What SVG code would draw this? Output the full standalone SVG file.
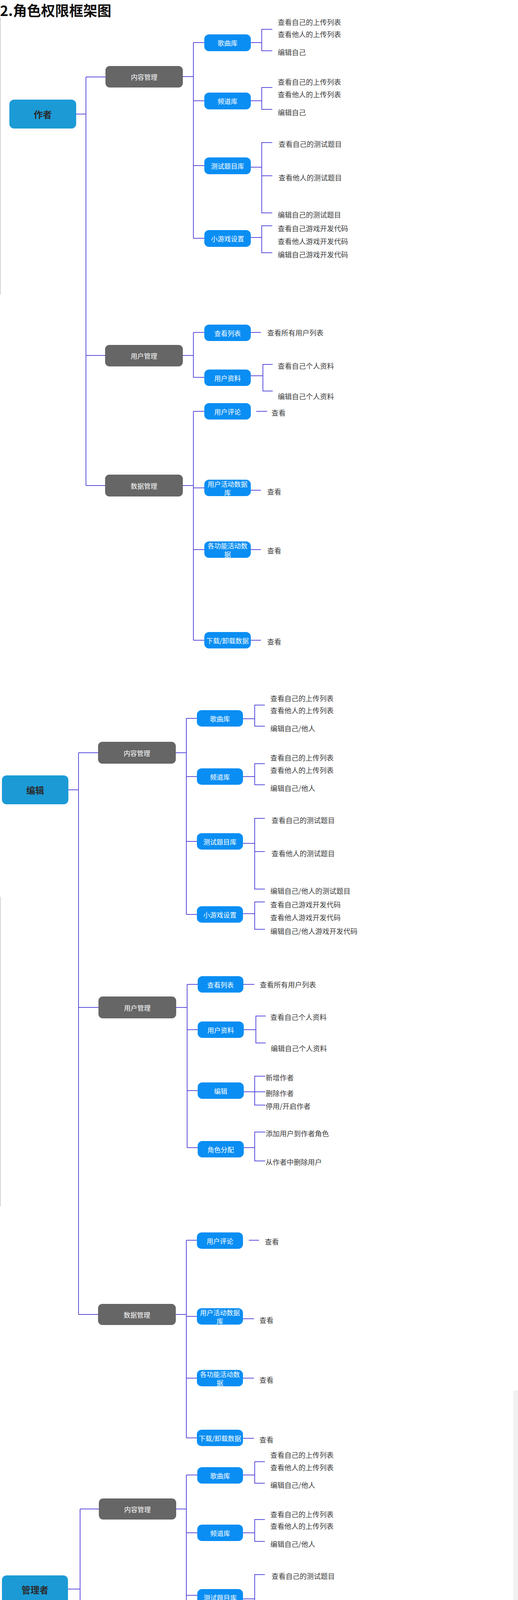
<svg xmlns="http://www.w3.org/2000/svg" width="1326" height="6324" viewBox="0 0 1326 6324">
<style>
text{font-family:"Noto Sans CJK SC","Noto Sans",sans-serif;dominant-baseline:central}
.c{fill:none;stroke:#5b4fdc;stroke-width:2}
.role rect{fill:#1c9ad6}
.role text{font-size:23px;font-weight:bold;fill:#2a2a2a;text-anchor:middle}
.cat rect{fill:#666666}
.sub rect{fill:#0a8ef3}
.cat text,.sub text{font-size:17px;fill:#ffffff;text-anchor:middle}
.leaf text{font-size:18px;fill:#3c3c3c}
.title{font-size:36px;font-weight:bold;fill:#111111}
.edge{stroke:#c4c4c4;stroke-width:1.5}
</style>
<rect width="1326" height="6324" fill="#ffffff"/>
<g id="frame">
<line class="edge" x1="0.8" y1="45" x2="0.8" y2="754"/>
<line class="edge" x1="0.8" y1="2296" x2="0.8" y2="3088"/>
<line class="edge" x1="0.8" y1="4427" x2="0.8" y2="5136"/>
<line class="edge" x1="0.8" y1="5863" x2="0.8" y2="6324"/>
<rect x="1314" y="3560" width="12" height="866" fill="#f1f1f1"/>
<rect x="1317" y="4146" width="9" height="99" fill="#c1c1c1"/>
</g>
<text class="title" x="0" y="25">2.角色权限框架图</text>

<g id="connectors">
<!-- Section A: 作者 -->
<path class="c" d="M195 292H220M220 197V1243M220 197H270M220 910H269M220 1243H269"/>
<path class="c" d="M468 196H495M495 109V610M495 109H523M495 258H523M495 424H523M495 610H523"/>
<path class="c" d="M642 109H670M697 75H670V130H697"/>
<path class="c" d="M642 258H670M697 224H670V280H697"/>
<path class="c" d="M642 428H670M697 365H670V545H697M670 450H697"/>
<path class="c" d="M642 608H670M697 578H670V647H697"/>
<path class="c" d="M468 910H495M495 851V966M495 851H523M495 966H523"/>
<path class="c" d="M642 851H668"/>
<path class="c" d="M642 962H673M698 933H673V1001H698"/>
<path class="c" d="M468 1243H495M495 1053V1639M495 1053H523M495 1249H523M495 1407H523M495 1639H523"/>
<path class="c" d="M656 1053H684M642 1255H668M642 1407H668M642 1639H668"/>
<!-- Section B: 编辑 -->
<path class="c" d="M175 2022H201M201 1927V3365M201 1927H251M201 2579H252M201 3365H251"/>
<path class="c" d="M450 1927H477M477 1839V2341M477 1839H504M477 1988H504M477 2154H504M477 2341H504"/>
<path class="c" d="M622 1840H652M678 1805H652V1859H678"/>
<path class="c" d="M622 1988H652M678 1955H652V2009H678"/>
<path class="c" d="M622 2159H652M678 2095H652V2276H678M652 2180H678"/>
<path class="c" d="M622 2339H652M678 2309H652V2379H678"/>
<path class="c" d="M451 2579H479M479 2520V2938M479 2520H506M479 2636H506M479 2792H506M479 2938H506"/>
<path class="c" d="M623 2520H651"/>
<path class="c" d="M624 2636H655M680 2601H655V2670H680"/>
<path class="c" d="M624 2795H652M679 2755H652V2829H679M652 2795H679"/>
<path class="c" d="M624 2938H652M679 2898H652V2972H679"/>
<path class="c" d="M450 3365H477M477 3175V3681M477 3175H504M477 3370H504M477 3528H504M477 3681H504"/>
<path class="c" d="M637 3175H663M622 3376H650M622 3528H650M622 3682H650"/>
<!-- Section C: 管理者 -->
<path class="c" d="M174 4068H205M205 3863V6085M205 3863H253M205 4600H256M205 5287H254M205 6085H226"/>
<path class="c" d="M451 3863H477M477 3776V4269M477 3776H505M477 3924H505M477 4084H505M477 4269H505"/>
<path class="c" d="M622 3776H652M678 3742H652V3797H678"/>
<path class="c" d="M622 3924H652M678 3890H652V3946H678"/>
<path class="c" d="M622 4093H652M678 4031H652V4209H678M652 4115H678"/>
<path class="c" d="M622 4271H652M678 4240H652V4310H678"/>
<path class="c" d="M457 4600H485M485 4543V4963M485 4543H512M485 4655H512M485 4816H512M485 4963H512"/>
<path class="c" d="M630 4543H657"/>
<path class="c" d="M630 4655H662M689 4625H662V4693H689"/>
<path class="c" d="M630 4819H659M686 4779H659V4853H686M659 4819H686"/>
<path class="c" d="M630 4962H659M686 4923H659V4996H686"/>
<path class="c" d="M453 5287H482M482 5055V5736M482 5055H510M482 5231H510M482 5422H510M482 5583H510M482 5736H510"/>
<path class="c" d="M628 5059H659M686 5021H659V5094H686"/>
<path class="c" d="M628 5228H655M682 5190H655V5261H682"/>
<path class="c" d="M628 5422H655M682 5383H655V5457H682"/>
<path class="c" d="M628 5581H655M682 5541H655V5615H682"/>
<path class="c" d="M628 5734H655M682 5695H655V5768H682"/>
<path class="c" d="M425 6085H453M453 5989V6273M453 5989H482M453 6125H482M453 6273H482"/>
<path class="c" d="M600 5990H628M655 5951H628V6023H655"/>
<path class="c" d="M600 6126H628M655 6086H628V6160H655"/>
<path class="c" d="M600 6273H630M657 6235H630V6308H657"/>
</g>

<!-- ===== Section A: 作者 ===== -->
<g id="a-role" class="role"><rect x="24" y="255" width="171" height="74" rx="12"/><text x="109.5" y="292">作者</text></g>
<g id="a-content" class="cat"><rect x="270" y="169" width="198" height="55" rx="11"/><text x="369" y="196.5">内容管理</text></g>
<g id="a-user" class="cat"><rect x="269" y="883" width="199" height="55" rx="11"/><text x="368.5" y="910.5">用户管理</text></g>
<g id="a-data" class="cat"><rect x="269" y="1215" width="199" height="56" rx="11"/><text x="368.5" y="1243">数据管理</text></g>
<g id="a-song" class="sub"><rect x="523" y="88" width="119" height="43" rx="12"/><text x="582.5" y="109.5">歌曲库</text></g>
<g id="a-channel" class="sub"><rect x="523" y="237" width="119" height="43" rx="12"/><text x="582.5" y="258.5">频道库</text></g>
<g id="a-quiz" class="sub"><rect x="523" y="403" width="119" height="43" rx="12"/><text x="582.5" y="424.5">测试题目库</text></g>
<g id="a-game" class="sub"><rect x="523" y="589" width="119" height="43" rx="12"/><text x="582.5" y="610.5">小游戏设置</text></g>
<g id="a-list" class="sub"><rect x="523" y="831" width="119" height="42" rx="12"/><text x="582.5" y="852">查看列表</text></g>
<g id="a-profile" class="sub"><rect x="523" y="946" width="119" height="42" rx="12"/><text x="582.5" y="967">用户资料</text></g>
<g id="a-comment" class="sub"><rect x="523" y="1032" width="119" height="42" rx="12"/><text x="582.5" y="1053">用户评论</text></g>
<g id="a-activity" class="sub"><rect x="523" y="1228" width="119" height="42" rx="12"/><text x="582.5" y="1238">用户活动数据</text><text x="582.5" y="1260">库</text></g>
<g id="a-feature" class="sub"><rect x="523" y="1386" width="119" height="42" rx="12"/><text x="582.5" y="1396">各功能活动数</text><text x="582.5" y="1418">据</text></g>
<g id="a-download" class="sub"><rect x="523" y="1618" width="119" height="42" rx="12"/><text x="582.5" y="1639">下载/卸载数据</text></g>
<g id="a-leaves" class="leaf">
<text x="711" y="56">查看自己的上传列表</text>
<text x="711" y="87">查看他人的上传列表</text>
<text x="711" y="133">编辑自己</text>
<text x="711" y="209">查看自己的上传列表</text>
<text x="711" y="241">查看他人的上传列表</text>
<text x="711" y="287">编辑自己</text>
<text x="713" y="368">查看自己的测试题目</text>
<text x="713" y="454">查看他人的测试题目</text>
<text x="711" y="549">编辑自己的测试题目</text>
<text x="711" y="584">查看自己游戏开发代码</text>
<text x="711" y="617">查看他人游戏开发代码</text>
<text x="711" y="651">编辑自己游戏开发代码</text>
<text x="684" y="851">查看所有用户列表</text>
<text x="711" y="936">查看自己个人资料</text>
<text x="711" y="1014">编辑自己个人资料</text>
<text x="695" y="1056">查看</text>
<text x="684" y="1258">查看</text>
<text x="684" y="1409">查看</text>
<text x="684" y="1642">查看</text>
</g>

<!-- ===== Section B: 编辑 ===== -->
<g id="b-role" class="role"><rect x="5" y="1985" width="170" height="74" rx="12"/><text x="90" y="2022">编辑</text></g>
<g id="b-content" class="cat"><rect x="251" y="1899" width="199" height="56" rx="11"/><text x="350.5" y="1927">内容管理</text></g>
<g id="b-user" class="cat"><rect x="252" y="2551" width="199" height="56" rx="11"/><text x="351.5" y="2579">用户管理</text></g>
<g id="b-data" class="cat"><rect x="251" y="3338" width="199" height="54" rx="11"/><text x="350.5" y="3365">数据管理</text></g>
<g id="b-song" class="sub"><rect x="504" y="1818" width="118" height="42" rx="12"/><text x="563" y="1839">歌曲库</text></g>
<g id="b-channel" class="sub"><rect x="504" y="1967" width="118" height="42" rx="12"/><text x="563" y="1988">频道库</text></g>
<g id="b-quiz" class="sub"><rect x="504" y="2133" width="118" height="42" rx="12"/><text x="563" y="2154">测试题目库</text></g>
<g id="b-game" class="sub"><rect x="504" y="2320" width="118" height="42" rx="12"/><text x="563" y="2341">小游戏设置</text></g>
<g id="b-list" class="sub"><rect x="506" y="2499" width="117" height="42" rx="12"/><text x="564.5" y="2520">查看列表</text></g>
<g id="b-profile" class="sub"><rect x="506" y="2615" width="118" height="42" rx="12"/><text x="565" y="2636">用户资料</text></g>
<g id="b-edit" class="sub"><rect x="506" y="2771" width="118" height="42" rx="12"/><text x="565" y="2792">编辑</text></g>
<g id="b-role-assign" class="sub"><rect x="506" y="2921" width="118" height="42" rx="12"/><text x="565" y="2942">角色分配</text></g>
<g id="b-comment" class="sub"><rect x="504" y="3155" width="118" height="42" rx="12"/><text x="563" y="3176">用户评论</text></g>
<g id="b-activity" class="sub"><rect x="504" y="3349" width="118" height="42" rx="12"/><text x="563" y="3359">用户活动数据</text><text x="563" y="3381">库</text></g>
<g id="b-feature" class="sub"><rect x="504" y="3507" width="118" height="42" rx="12"/><text x="563" y="3517">各功能活动数</text><text x="563" y="3539">据</text></g>
<g id="b-download" class="sub"><rect x="504" y="3660" width="118" height="42" rx="12"/><text x="563" y="3681">下载/卸载数据</text></g>
<g id="b-leaves" class="leaf">
<text x="692" y="1787">查看自己的上传列表</text>
<text x="692" y="1818">查看他人的上传列表</text>
<text x="692" y="1864">编辑自己/他人</text>
<text x="692" y="1939">查看自己的上传列表</text>
<text x="692" y="1971">查看他人的上传列表</text>
<text x="692" y="2017">编辑自己/他人</text>
<text x="695" y="2099">查看自己的测试题目</text>
<text x="695" y="2184">查看他人的测试题目</text>
<text x="692" y="2280">编辑自己/他人的测试题目</text>
<text x="692" y="2315">查看自己游戏开发代码</text>
<text x="692" y="2348">查看他人游戏开发代码</text>
<text x="692" y="2383">编辑自己/他人游戏开发代码</text>
<text x="665" y="2520">查看所有用户列表</text>
<text x="692" y="2603">查看自己个人资料</text>
<text x="693" y="2683">编辑自己个人资料</text>
<text x="680" y="2758">新增作者</text>
<text x="680" y="2798">删除作者</text>
<text x="680" y="2831">停用/开启作者</text>
<text x="680" y="2901">添加用户到作者角色</text>
<text x="680" y="2974">从作者中删除用户</text>
<text x="678" y="3178">查看</text>
<text x="664" y="3379">查看</text>
<text x="664" y="3532">查看</text>
<text x="664" y="3685">查看</text>
</g>

<!-- ===== Section C: 管理者 ===== -->
<g id="c-role" class="role"><rect x="5" y="4033" width="169" height="72" rx="12"/><text x="89.5" y="4069">管理者</text></g>
<g id="c-content" class="cat"><rect x="253" y="3836" width="198" height="54" rx="11"/><text x="352" y="3863">内容管理</text></g>
<g id="c-user" class="cat"><rect x="256" y="4574" width="201" height="56" rx="11"/><text x="356.5" y="4602">用户管理</text></g>
<g id="c-data" class="cat"><rect x="254" y="5260" width="199" height="54" rx="11"/><text x="353.5" y="5287">数据管理</text></g>
<g id="c-perm" class="cat"><rect x="226" y="6057" width="199" height="56" rx="11"/><text x="325.5" y="6085">权限管理（管理者拥有）</text></g>
<g id="c-song" class="sub"><rect x="505" y="3756" width="117" height="42" rx="12"/><text x="563.5" y="3777">歌曲库</text></g>
<g id="c-channel" class="sub"><rect x="505" y="3903" width="117" height="42" rx="12"/><text x="563.5" y="3924">频道库</text></g>
<g id="c-quiz" class="sub"><rect x="505" y="4068" width="117" height="42" rx="12"/><text x="563.5" y="4089">测试题目库</text></g>
<g id="c-game" class="sub"><rect x="505" y="4252" width="117" height="42" rx="12"/><text x="563.5" y="4273">小游戏设置</text></g>
<g id="c-list" class="sub"><rect x="512" y="4522" width="118" height="42" rx="12"/><text x="571" y="4543">查看列表</text></g>
<g id="c-profile" class="sub"><rect x="512" y="4638" width="118" height="42" rx="12"/><text x="571" y="4659">用户资料</text></g>
<g id="c-edit" class="sub"><rect x="512" y="4795" width="118" height="42" rx="12"/><text x="571" y="4816">编辑</text></g>
<g id="c-role-assign" class="sub"><rect x="512" y="4947" width="118" height="42" rx="12"/><text x="571" y="4968">角色分配</text></g>
<g id="c-userdb" class="sub"><rect x="510" y="5034" width="118" height="42" rx="12"/><text x="569" y="5055">用户数据库</text></g>
<g id="c-comment" class="sub"><rect x="510" y="5211" width="118" height="42" rx="12"/><text x="569" y="5232">用户评论</text></g>
<g id="c-activity" class="sub"><rect x="510" y="5404" width="118" height="42" rx="12"/><text x="569" y="5414">用户活动数据</text><text x="569" y="5436">库</text></g>
<g id="c-feature" class="sub"><rect x="510" y="5563" width="118" height="42" rx="12"/><text x="569" y="5573">各功能活动数</text><text x="569" y="5595">据</text></g>
<g id="c-download" class="sub"><rect x="510" y="5716" width="118" height="42" rx="12"/><text x="569" y="5737">下载/卸载数据</text></g>
<g id="c-role-perm" class="sub"><rect x="482" y="5969" width="118" height="42" rx="12"/><text x="541" y="5990">角色权限设置</text></g>
<g id="c-role-set" class="sub"><rect x="482" y="6104" width="118" height="42" rx="12"/><text x="541" y="6125">角色设置</text></g>
<g id="c-data-perm" class="sub"><rect x="482" y="6252" width="118" height="42" rx="12"/><text x="541" y="6273">数据权限管理</text></g>
<g id="c-leaves" class="leaf">
<text x="692" y="3724">查看自己的上传列表</text>
<text x="692" y="3756">查看他人的上传列表</text>
<text x="692" y="3801">编辑自己/他人</text>
<text x="692" y="3876">查看自己的上传列表</text>
<text x="692" y="3906">查看他人的上传列表</text>
<text x="692" y="3952">编辑自己/他人</text>
<text x="695" y="4034">查看自己的测试题目</text>
<text x="695" y="4118">查看他人的测试题目</text>
<text x="692" y="4214">编辑自己/他人的测试题目</text>
<text x="692" y="4247">查看自己游戏开发代码</text>
<text x="692" y="4280">查看他人游戏开发代码</text>
<text x="692" y="4313">编辑自己/他人游戏开发代码</text>
<text x="673" y="4544">查看所有用户列表</text>
<text x="700" y="4628">查看自己个人资料</text>
<text x="700" y="4663">编辑他人个人资料</text>
<text x="700" y="4706">编辑自己个人资料</text>
<text x="687" y="4782">新增用户</text>
<text x="687" y="4821">删除用户</text>
<text x="687" y="4856">停用/开启用户</text>
<text x="687" y="4926">添加用户到用户角色</text>
<text x="687" y="4965">编辑用户角色</text>
<text x="687" y="4999">从角色中删除用户</text>
<text x="700" y="5033">查看</text>
<text x="700" y="5097">编辑</text>
<text x="695" y="5202">查看</text>
<text x="695" y="5265">编辑</text>
<text x="695" y="5392">查看</text>
<text x="695" y="5460">编辑/分享</text>
<text x="695" y="5554">查看</text>
<text x="695" y="5618">编辑/分享</text>
<text x="695" y="5706">查看</text>
<text x="695" y="5771">编辑/分享</text>
<text x="668" y="5964">查看</text>
<text x="668" y="6028">编辑</text>
<text x="668" y="6099">查看</text>
<text x="668" y="6163">编辑</text>
<text x="670" y="6248">查看</text>
<text x="670" y="6311">编辑</text>
</g>
</svg>
